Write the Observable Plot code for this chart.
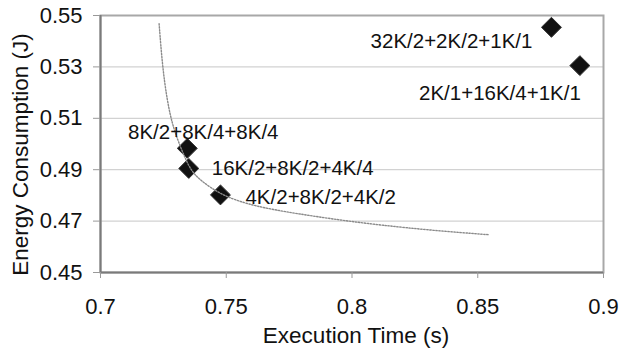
<!DOCTYPE html>
<html>
<head>
<meta charset="utf-8">
<script src="https://cdn.jsdelivr.net/npm/d3@7"></script>
<script src="https://cdn.jsdelivr.net/npm/@observablehq/plot@0.6"></script>
<style>
  html, body { margin: 0; padding: 0; background: #fff; }
  svg { display: block; }
</style>
</head>
<body>
<div id="chart"></div>
<script>
// Configurations (labels), execution time (s), energy consumption (J)
const configs = ["8K/2+8K/4+8K/4", "16K/2+8K/2+4K/4", "4K/2+8K/2+4K/2", "32K/2+2K/2+1K/1", "2K/1+16K/4+1K/1"];
const execTime = [0.7345, 0.7351, 0.7477, 0.8793, 0.8906];
const energy = [0.4983, 0.4905, 0.4802, 0.5454, 0.5305];

// Dotted trend curve
const trendX = [0.7233, 0.7246, 0.7264, 0.7286, 0.7325, 0.7359, 0.7399, 0.7479, 0.7586, 0.7719, 0.7958, 0.8118, 0.8318, 0.8544];
const trendY = [0.5468, 0.5305, 0.5175, 0.5071, 0.4970, 0.4896, 0.4857, 0.4802, 0.4765, 0.4738, 0.4703, 0.4684, 0.4664, 0.4647];

// Ticks
const xTicks = [0.7, 0.75, 0.8, 0.85, 0.9];
const xTickLabels = ["0.7", "0.75", "0.8", "0.85", "0.9"];
const yTicks = [0.45, 0.47, 0.49, 0.51, 0.53, 0.55];
const yTickLabels = ["0.45", "0.47", "0.49", "0.51", "0.53", "0.55"];

const xTitle = "Execution Time (s)";
const yTitle = "Energy Consumption (J)";

const points = configs.map((c, i) => ({config: c, x: execTime[i], y: energy[i]}));
const trend = trendX.map((x, i) => ({x, y: trendY[i]}));

// Label placement (style, not data)
const labelPos = [
  {dx: 16, dy: -16, textAnchor: "middle"},
  {dx: 23, dy: 0, textAnchor: "start"},
  {dx: 25, dy: 3, textAnchor: "start"},
  {dx: -19, dy: 14, textAnchor: "end"},
  {dx: 1, dy: 28, textAnchor: "end"}
];

const font = "'Liberation Sans', Arial, Helvetica, sans-serif";

const chart = Plot.plot({
  width: 621,
  height: 349,
  marginLeft: 100,
  marginRight: 18,
  marginTop: 15,
  marginBottom: 77,
  style: {fontFamily: font, background: "#fff", color: "#111", overflow: "visible"},
  x: {domain: [0.7, 0.9]},
  y: {domain: [0.45, 0.55]},
  marks: [
    Plot.ruleY(yTicks.slice(1, -1), {stroke: "#d2d2d2", strokeWidth: 1.2}),
    Plot.frame({stroke: "#a8a8a8", strokeWidth: 2}),
    Plot.ruleX([0.7], {stroke: "#7a7a7a", strokeWidth: 2}),
    Plot.ruleY([0.45], {stroke: "#7a7a7a", strokeWidth: 2}),
    Plot.axisX({
      ticks: xTicks,
      tickFormat: (d) => xTickLabels[xTicks.indexOf(d)],
      tickSize: 6,
      tickPadding: 20,
      fontSize: 22,
      stroke: "#999",
      label: null
    }),
    Plot.axisY({
      ticks: yTicks,
      tickFormat: (d) => yTickLabels[yTicks.indexOf(d)],
      tickSize: 7,
      tickPadding: 11,
      fontSize: 22,
      stroke: "#999",
      label: null
    }),
    Plot.dot(points, {x: "x", y: "y", symbol: "diamond2", r: 9, fill: "#111", stroke: "#333", strokeWidth: 1}),
    Plot.line(trend, {x: "x", y: "y", curve: "basis", stroke: "#8a8a8a", strokeWidth: 1.4, strokeDasharray: "1.4 1.6"}),
    ...points.map((p, i) => Plot.text([p], {
      x: "x", y: "y", text: "config",
      dx: labelPos[i].dx, dy: labelPos[i].dy, textAnchor: labelPos[i].textAnchor,
      lineAnchor: "middle", fontSize: 20.5, fill: "#111"
    })),
    Plot.text([xTitle], {frameAnchor: "bottom", textAnchor: "middle", dx: 4, dy: 63, lineAnchor: "middle", fontSize: 22.5, fill: "#111"}),
    Plot.text([yTitle], {frameAnchor: "left", textAnchor: "middle", rotate: -90, dx: -80, dy: 10.5, lineAnchor: "middle", fontSize: 22.5, fill: "#111"})
  ]
});

document.getElementById("chart").appendChild(chart);
</script>
</body>
</html>
